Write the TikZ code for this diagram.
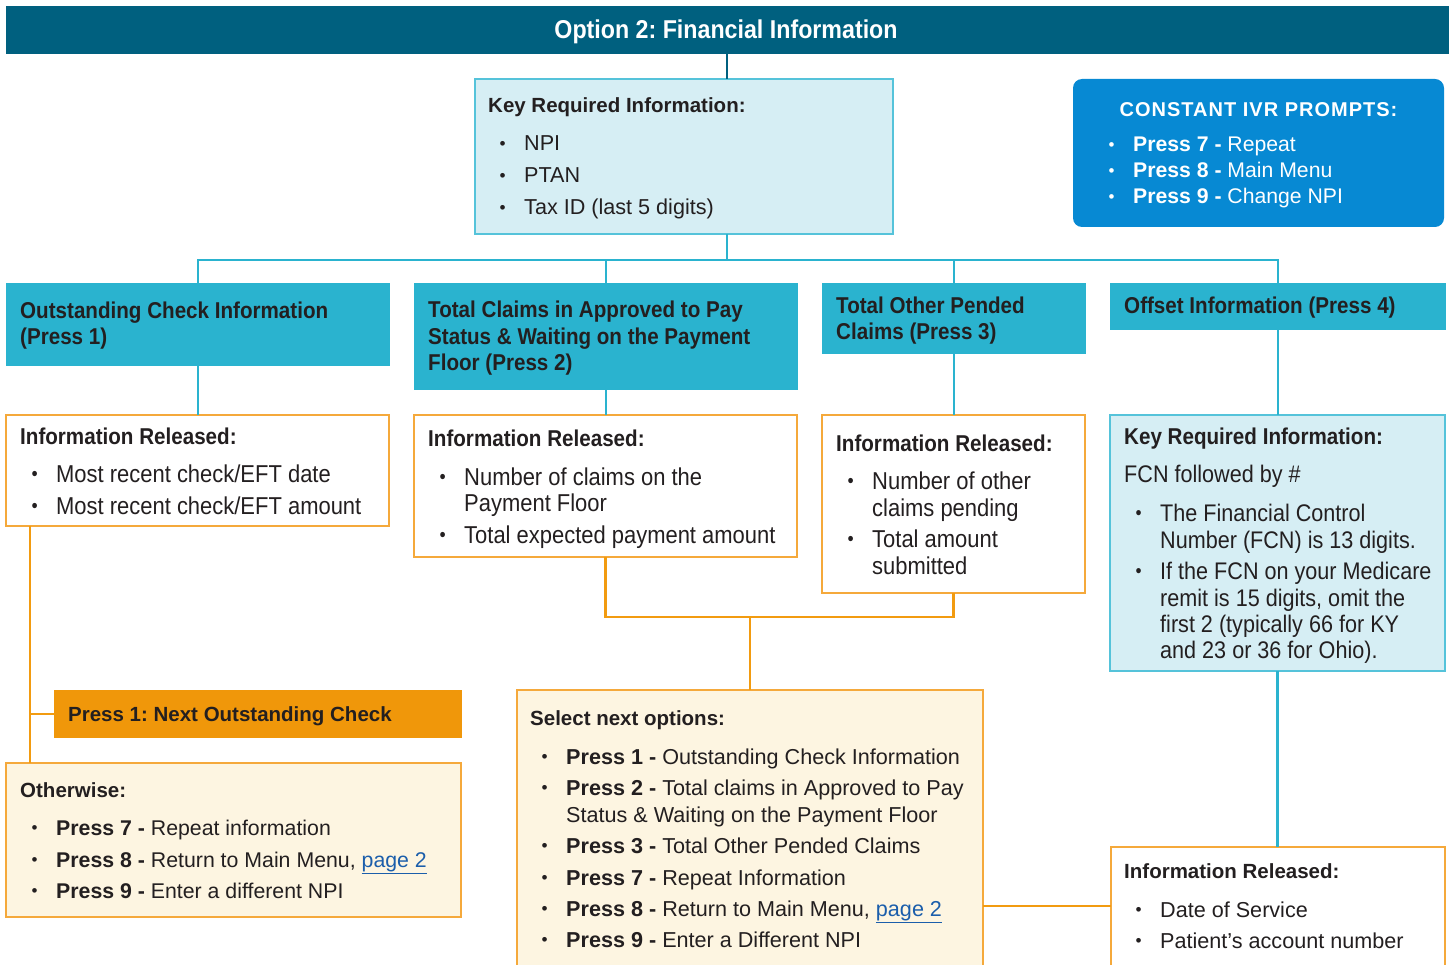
\documentclass[tikz,border=0pt]{standalone}
\usepackage{fontspec}
\usepackage{graphicx}
\setmainfont{Liberation Sans}
\newfontfamily\cf[FakeStretch=0.9]{Liberation Sans}
\frenchspacing
\definecolor{ctitle}{HTML}{00607F}
\definecolor{cteal}{HTML}{2AB3CF}
\definecolor{clight}{HTML}{D6EEF4}
\definecolor{cborder}{HTML}{55C3DA}
\definecolor{corange}{HTML}{F5A93B}
\definecolor{cline}{HTML}{F29B10}
\definecolor{cpress}{HTML}{F0970A}
\definecolor{ccream}{HTML}{FDF5E1}
\definecolor{cblue}{HTML}{0789D3}
\definecolor{ctext}{HTML}{231F20}
\definecolor{clink}{HTML}{1B5EAB}
\newcommand\bodyf{\fontsize{21.6}{26}\selectfont}
\newcommand\cbodyf{\cf\fontsize{24.4}{26}\selectfont}
\newcommand\titf{\bfseries\fontsize{20.5}{26}\selectfont}
\newcommand\ctitf{\cf\bfseries\fontsize{22.9}{26}\selectfont}
\newcommand\B{\hspace*{11.5pt}\makebox[24.5pt][l]{\raisebox{1.2pt}{\scalebox{0.8}{•}}}}
\newcommand\C{\hspace*{36pt}}
\newcommand\lnk[1]{\textcolor{clink}{\underline{#1}}}
\newcommand\bx[6]{\node[#1,anchor=north west,inner sep=0pt,outer sep=0pt,minimum width={(#5-#3)*1pt},minimum height={(#6-#4)*1pt}] (#2) at (#3,#4) {};}
\begin{document}
\begin{tikzpicture}[x=1pt,y=-1pt,
  titlebar/.style={fill=ctitle,draw=none},
  hdr/.style={fill=cteal,draw=none},
  keybox/.style={fill=clight,draw=cborder,line width=1.3pt},
  infobox/.style={fill=white,draw=corange,line width=1.5pt},
  creambox/.style={fill=ccream,draw=corange,line width=1.5pt},
  pressbox/.style={fill=cpress,draw=none},
  ivrbox/.style={fill=cblue,draw=none,rounded corners=9pt},
  txt/.style={anchor=base west,inner sep=0pt,text=ctext,font=\bodyf},
  ctxt/.style={anchor=base west,inner sep=0pt,text=ctext,font=\cbodyf},
  htxt/.style={anchor=base west,inner sep=0pt,text=ctext,font=\ctitf},
  tconn/.style={draw=cteal,line width=2.4pt},
  oconn/.style={draw=cline,line width=2.5pt},
  dconn/.style={draw=ctitle,line width=2.5pt}]
\useasboundingbox (0,0) rectangle (1455,965);
% boxes
\bx{titlebar}{title}{6}{6}{1449}{54}
\bx{keybox}{k1}{475}{79}{893}{234}
\bx{ivrbox}{ivr}{1073}{79}{1444}{227}
\bx{hdr}{h1}{6}{283}{390}{366}
\bx{hdr}{h2}{414}{283}{798}{390}
\bx{hdr}{h3}{822}{283}{1086}{354}
\bx{hdr}{h4}{1110}{283}{1446}{330}
\bx{infobox}{i1}{6}{415}{389}{526}
\bx{infobox}{i2}{414}{415}{797}{557}
\bx{infobox}{i3}{822}{415}{1085}{593}
\bx{keybox}{k4}{1110}{415}{1445}{671}
\bx{pressbox}{p1}{54}{690}{462}{738}
\bx{creambox}{ot}{6}{763}{461}{917}
\bx{creambox}{sel}{517}{690}{983}{990}
\bx{infobox}{i5}{1111}{847}{1445}{990}
% connectors
\coordinate (bus) at (727,260);
\coordinate (oj) at (30,714);
\coordinate (oj2) at (750,617);
\coordinate (oj3) at (983,906);
\draw[dconn] (title.south -| bus) -- (k1.north -| bus);
\draw[tconn] (k1.south -| bus) -- (bus);
\draw[tconn] (h1.north) |- (bus) -| (h4.north);
\draw[tconn] (h2.north) -- (h2.north |- bus);
\draw[tconn] (h3.north) -- (h3.north |- bus);
\draw[tconn] (h1.south) -- (h1.south |- i1.north);
\draw[tconn] (h2.south) -- (h2.south |- i2.north);
\draw[tconn] (h3.south) -- (h3.south |- i3.north);
\draw[tconn] (h4.south) -- (h4.south |- k4.north);
\draw[tconn] (k4.south) -- (k4.south |- i5.north);
\draw[oconn] (i1.south -| oj) -- (ot.north -| oj);
\draw[oconn] (oj) -- (p1.west);
\draw[oconn] (i2.south) |- (oj2) -| (i3.south);
\draw[oconn] (oj2) -- (oj2 |- sel.north);
\draw[oconn] (sel.east |- oj3) -- (i5.west |- oj3);
% texts
\node[anchor=base,inner sep=0pt,text=white,font=\cf\bfseries\fontsize{25.8}{30}\selectfont] (titlet) at (726,39) {Option 2: Financial Information};
\node[txt] (k1t) at (488,113) {\begin{tabular}[t]{@{}l@{}}
{\titf Key Required Information:}\\[12pt]
\B NPI\\[6pt]
\B PTAN\\[6pt]
\B Tax ID (last 5 digits)
\end{tabular}};
\node[anchor=base,inner sep=0pt,text=white,font=\bfseries\fontsize{20}{26}\selectfont\addfontfeature{LetterSpace=5}] (ivrt) at (1258.5,117) {CONSTANT IVR PROMPTS:};
\node[txt,text=white,font=\fontsize{21.2}{26}\selectfont] (ivri) at (1097,152) {\begin{tabular}[t]{@{}l@{}}
\B\textbf{Press 7 -} Repeat\\
\B\textbf{Press 8 -} Main Menu\\
\B\textbf{Press 9 -} Change NPI
\end{tabular}};
\node[htxt] (h1t) at (20,319) {\begin{tabular}[t]{@{}l@{}}
Outstanding Check Information\\
(Press 1)
\end{tabular}};
\node[htxt] (h2t) at (428,318) {\begin{tabular}[t]{@{}l@{}}
Total Claims in Approved to Pay\\
Status \& Waiting on the Payment\\
Floor (Press 2)
\end{tabular}};
\node[htxt] (h3t) at (836,313) {\begin{tabular}[t]{@{}l@{}}
Total Other Pended\\
Claims (Press 3)
\end{tabular}};
\node[htxt] (h4t) at (1124,314) {Offset Information (Press 4)};
\node[ctxt] (i1t) at (20,444) {\begin{tabular}[t]{@{}l@{}}
{\ctitf Information Released:}\\[12pt]
\B Most recent check/EFT date\\[6pt]
\B Most recent check/EFT amount
\end{tabular}};
\node[ctxt] (i2t) at (428,446) {\begin{tabular}[t]{@{}l@{}}
{\ctitf Information Released:}\\[13pt]
\B Number of claims on the\\
\C Payment Floor\\[6pt]
\B Total expected payment amount
\end{tabular}};
\node[ctxt] (i3t) at (836,451) {\begin{tabular}[t]{@{}l@{}}
{\ctitf Information Released:}\\[12pt]
\B Number of other\\[1pt]
\C claims pending\\[5pt]
\B Total amount\\[1pt]
\C submitted
\end{tabular}};
\node[ctxt,font=\cf\fontsize{24}{26}\selectfont] (k4t) at (1124,444) {\begin{tabular}[t]{@{}l@{}}
{\ctitf Key Required Information:}\\[12pt]
FCN followed by \#\\[13pt]
\B The Financial Control\\[1pt]
\C Number (FCN) is 13 digits.\\[5pt]
\B If the FCN on your Medicare\\[1pt]
\C remit is 15 digits, omit the\\
\C first 2 (typically 66 for KY\\
\C and 23 or 36 for Ohio).
\end{tabular}};
\node[txt,font=\titf] (p1t) at (68,721) {Press 1: Next Outstanding Check};
\node[txt,font=\fontsize{21.3}{26}\selectfont] (ott) at (20,797) {\begin{tabular}[t]{@{}l@{}}
{\titf Otherwise:}\\[12pt]
\B\textbf{Press 7 -} Repeat information\\[6pt]
\B\textbf{Press 8 -} Return to Main Menu, \lnk{page 2}\\[5pt]
\B\textbf{Press 9 -} Enter a different NPI
\end{tabular}};
\node[txt] (selt) at (530,725) {\begin{tabular}[t]{@{}l@{}}
{\titf Select next options:}\\[13pt]
\B\textbf{Press 1 -} Outstanding Check Information\\[5pt]
\B\textbf{Press 2 -} Total claims in Approved to Pay\\[1pt]
\C Status \& Waiting on the Payment Floor\\[5pt]
\B\textbf{Press 3 -} Total Other Pended Claims\\[6pt]
\B\textbf{Press 7 -} Repeat Information\\[5pt]
\B\textbf{Press 8 -} Return to Main Menu, \lnk{page 2}\\[5pt]
\B\textbf{Press 9 -} Enter a Different NPI
\end{tabular}};
\node[txt] (i5t) at (1124,878) {\begin{tabular}[t]{@{}l@{}}
{\titf Information Released:}\\[13pt]
\B Date of Service\\[5pt]
\B Patient’s account number
\end{tabular}};
\end{tikzpicture}
\end{document}
